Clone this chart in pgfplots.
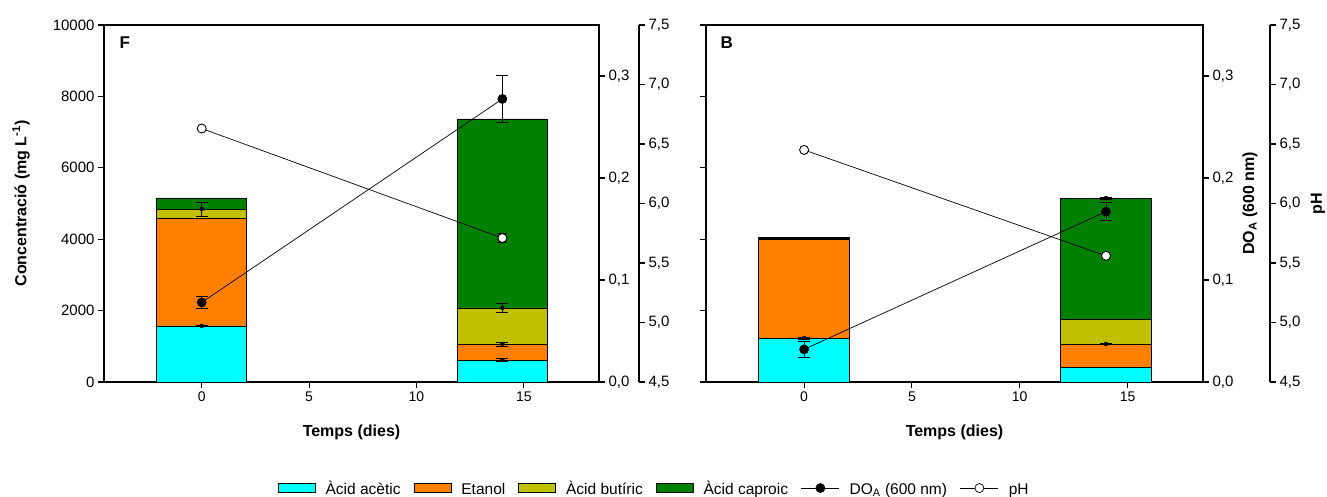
\documentclass[border=0pt]{standalone}
\usepackage{pgfplots}
\pgfplotsset{compat=1.18}
\usepackage{fontspec}
\setmainfont{Liberation Sans}
\definecolor{cAce}{RGB}{0,255,255}
\definecolor{cEta}{RGB}{255,128,0}
\definecolor{cBut}{RGB}{192,192,0}
\definecolor{cCap}{RGB}{0,128,0}
\tikzset{
  barbase/.style={draw=black, line width=0.8pt},
  lab/.style={font=\fontsize{16}{19}\selectfont\bfseries},
}
\pgfplotsset{
  boxlegend/.style={legend image code/.code={\draw[##1] (0pt,-4.5pt) rectangle (37pt,4.5pt);}},
  linelegend/.style={legend image code/.code={\draw[mark repeat=2,mark phase=2,##1] plot coordinates {(0pt,0pt) (19pt,0pt) (38pt,0pt)};}},
  panel/.style={scale only axis, width=#1, height=357pt, xmin=-4.55, xmax=18.5,
    anchor=south west,
    /pgf/number format/assume math mode=true,
    axis line style={line width=1.1pt},
    tick align=outside, major tick length=6pt,
    every tick/.style={black, line width=1.1pt},
    tick label style={font=\fontsize{15}{18}\selectfont},
    x tick label style={font=\fontsize{14}{17}\selectfont},
    clip=false},
  decy/.style={yticklabel style={/pgf/number format/fixed, /pgf/number format/fixed zerofill, /pgf/number format/precision=1, /pgf/number format/use comma}},
  errs/.style={only marks, mark=none, forget plot,
    error bars/.cd, y dir=both, y explicit,
    error bar style={black, line width=0.9pt},
    error mark options={black, line width=0.9pt, mark size=6pt, rotate=90}},
  doline/.style={black, line width=0.7pt, mark=*, mark size=4.5pt, mark options={fill=black, solid},
    error bars/.cd, y dir=both, y explicit,
    error bar style={black, line width=0.9pt},
    error mark options={black, line width=0.9pt, mark size=6pt, rotate=90}},
  phline/.style={black, line width=0.7pt, mark=*, mark size=4.5pt, mark options={fill=white, draw=black, line width=0.9pt, solid},
    error bars/.cd, y dir=both, y explicit,
    error bar style={black, line width=0.9pt},
    error mark options={black, line width=0.9pt, mark size=5pt, rotate=90}},
}
\newcommand{\ls}{\vphantom{Àgy}}
\begin{document}
\begin{tikzpicture}
\path[use as bounding box] (0,0) rectangle (1327pt,497pt);

% ================= Panel F =================
\begin{axis}[panel=495pt, at={(104pt,115pt)},
  ymin=0, ymax=10000, ytick={0,2000,...,10000}, xtick={0,5,10,15},
  tick pos=left, scaled y ticks=false,
  yticklabel style={/pgf/number format/1000 sep={}, /pgf/number format/fixed},
  ybar stacked, bar width=4.2,
  ylabel={Concentració (mg L\textsuperscript{-1})},
  every axis y label/.style={at={(rel axis cs:0,0.5)}, xshift=-83pt, rotate=90, anchor=center, lab},
  xlabel={Temps (dies)},
  every axis x label/.style={at={(rel axis cs:0.5,0)}, yshift=-50pt, anchor=center, lab},
]
\addplot[barbase, fill=cAce] coordinates {(0,1570) (14,616)};
\addplot[barbase, fill=cEta] coordinates {(0,3020) (14,448)};
\addplot[barbase, fill=cBut] coordinates {(0,255) (14,1009)};
\addplot[barbase, fill=cCap] coordinates {(0,310) (14,5294)};
\node[font=\fontsize{17}{20}\selectfont\bfseries] at (rel axis cs:0.042,0.95) {F};
\end{axis}
\begin{axis}[panel=495pt, at={(104pt,115pt)}, hide axis, ymin=0, ymax=10000]
\addplot[errs] coordinates {(0,1570) +- (0,20) (0,4845) +- (0,195)
  (14,616) +- (0,54) (14,1064) +- (0,56) (14,2073) +- (0,137)};
\end{axis}
\begin{axis}[panel=495pt, at={(104pt,115pt)}, axis y line*=right, axis x line=none,
  ymin=0, ymax=0.35, ytick={0,0.1,0.2,0.3}, decy]
\addplot[doline] coordinates {(0,0.078) +- (0,0.006) (14,0.2775) +- (0,0.023)};
\end{axis}
\begin{axis}[panel=495pt, at={(104pt,115pt)}, hide axis, ymin=4.5, ymax=7.5]
\addplot[phline] coordinates {(0,6.63) (14,5.71) +- (0,0.04)};
\end{axis}
\begin{axis}[panel=495pt, at={(144pt,115pt)}, axis y line*=right, axis x line=none,
  ymin=4.5, ymax=7.5, ytick={4.5,5,...,7.5}, decy]
\addplot[draw=none] coordinates {(0,5)};
\end{axis}

% ================= Panel B =================
\begin{axis}[panel=497pt, at={(706pt,115pt)},
  ymin=0, ymax=10000, ytick={0,2000,...,10000}, xtick={0,5,10,15},
  tick pos=left, yticklabels={}, scaled y ticks=false,
  ybar stacked, bar width=4.2,
  xlabel={Temps (dies)},
  every axis x label/.style={at={(rel axis cs:0.5,0)}, yshift=-50pt, anchor=center, lab},
]
\addplot[barbase, fill=cAce] coordinates {(0,1230) (14,420)};
\addplot[barbase, fill=cEta] coordinates {(0,2775) (14,644)};
\addplot[barbase, fill=cBut] coordinates {(0,25) (14,700)};
\addplot[barbase, fill=cCap] coordinates {(0,30) (14,3385)};
\node[font=\fontsize{17}{20}\selectfont\bfseries] at (rel axis cs:0.042,0.95) {B};
\end{axis}
\begin{axis}[panel=497pt, at={(706pt,115pt)}, hide axis, ymin=0, ymax=10000]
\addplot[errs] coordinates {(0,1230) +- (0,30)
  (14,1064) +- (0,20) (14,5150) +- (0,25)};
\end{axis}
\begin{axis}[panel=497pt, at={(706pt,115pt)}, axis y line*=right, axis x line=none,
  ymin=0, ymax=0.35, ytick={0,0.1,0.2,0.3}, decy,
  ylabel={DO\textsubscript{A} (600 nm)},
  every axis y label/.style={at={(rel axis cs:1,0.5)}, xshift=47pt, rotate=90, anchor=center, lab}]
\addplot[doline] coordinates {(0,0.032) +- (0,0.008) (14,0.167) +- (0,0.009)};
\end{axis}
\begin{axis}[panel=497pt, at={(706pt,115pt)}, hide axis, ymin=4.5, ymax=7.5]
\addplot[phline] coordinates {(0,6.45) (14,5.56)};
\end{axis}
\begin{axis}[panel=497pt, at={(773pt,115pt)}, axis y line*=right, axis x line=none,
  ymin=4.5, ymax=7.5, ytick={4.5,5,...,7.5}, decy,
  ylabel={pH},
  every axis y label/.style={at={(rel axis cs:1,0.5)}, xshift=48pt, rotate=90, anchor=center, lab}]
\addplot[draw=none] coordinates {(0,5)};
\end{axis}

% ================= Legend =================
\begin{axis}[scale only axis, width=1327pt, height=497pt, at={(0pt,0pt)}, anchor=south west,
  hide axis, xmin=0, xmax=1, ymin=0, ymax=1,
  legend columns=6,
  legend style={at={(rel axis cs:0.493,0.018)}, anchor=center, draw=none, fill=none,
    font=\fontsize{15.5}{18}\selectfont,
    /tikz/every even column/.append style={column sep=11pt},
    /tikz/every odd column/.append style={column sep=8pt}},
  legend cell align=left]
\addlegendimage{barbase, fill=cAce, boxlegend}
\addlegendentry{\ls Àcid acètic}
\addlegendimage{barbase, fill=cEta, boxlegend}
\addlegendentry{\ls Etanol}
\addlegendimage{barbase, fill=cBut, boxlegend}
\addlegendentry{\ls Àcid butíric}
\addlegendimage{barbase, fill=cCap, boxlegend}
\addlegendentry{\ls Àcid caproic}
\addlegendimage{black, line width=0.7pt, mark=*, mark size=4.5pt, mark options={fill=black}, linelegend}
\addlegendentry{\ls DO\textsubscript{A} (600 nm)}
\addlegendimage{black, line width=0.7pt, mark=*, mark size=4.5pt, mark options={fill=white, draw=black}, linelegend}
\addlegendentry{\ls pH}
\end{axis}
\end{tikzpicture}
\end{document}
